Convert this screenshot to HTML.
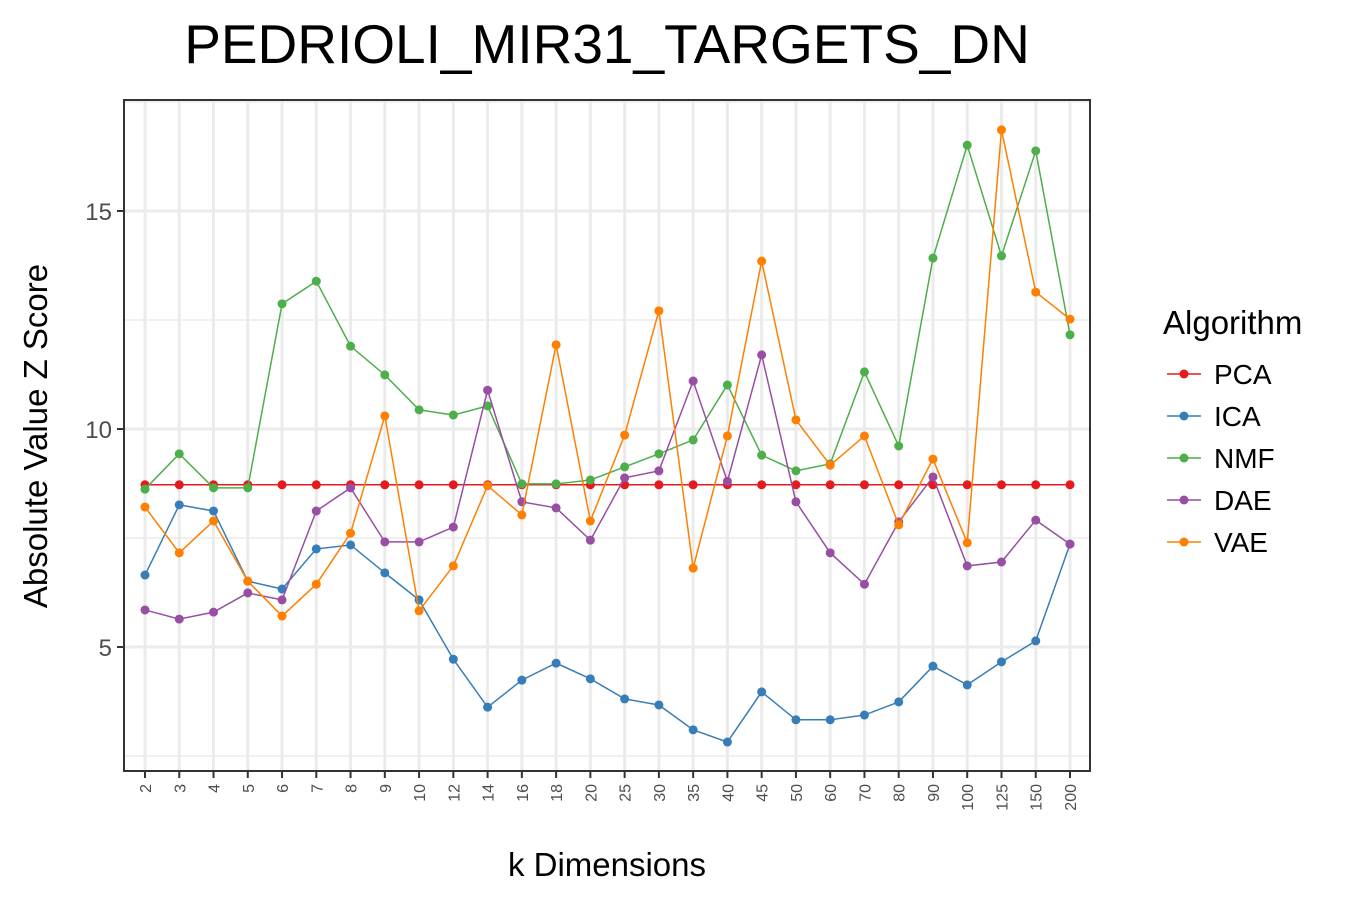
<!DOCTYPE html>
<html><head><meta charset="utf-8"><style>
body{margin:0;background:#fff;}
svg{font-family:"Liberation Sans",Arial,sans-serif;}
</style></head><body>
<svg id="chart" width="1350" height="900">
<text x="607" y="63" font-size="55" text-anchor="middle" fill="#000">PEDRIOLI_MIR31_TARGETS_DN</text>
<g id="grid"></g><g id="series"></g><g id="axes"></g>
<text x="607" y="876" font-size="33" text-anchor="middle">k Dimensions</text>
<text transform="translate(47,436) rotate(-90)" font-size="33" text-anchor="middle">Absolute Value Z Score</text>
<g id="legend"></g>
</svg>
<script>
const categories=["2","3","4","5","6","7","8","9","10","12","14","16","18","20","25","30","35","40","45","50","60","70","80","90","100","125","150","200"];
const pca=[8.72,8.72,8.72,8.72,8.72,8.72,8.72,8.72,8.72,8.72,8.72,8.72,8.72,8.72,8.72,8.72,8.72,8.72,8.72,8.72,8.72,8.72,8.72,8.72,8.72,8.72,8.72,8.72];
const ica=[6.65,8.26,8.12,6.51,6.33,7.25,7.34,6.70,6.08,4.72,3.62,4.24,4.63,4.27,3.81,3.67,3.10,2.82,3.97,3.33,3.33,3.44,3.74,4.56,4.13,4.66,5.14,7.36];
const nmf=[8.62,9.43,8.65,8.65,12.87,13.39,11.90,11.24,10.44,10.32,10.53,8.74,8.74,8.83,9.13,9.43,9.75,11.01,9.40,9.04,9.20,11.31,9.61,13.92,16.51,13.97,16.38,12.16];
const dae=[5.85,5.64,5.80,6.24,6.08,8.12,8.65,7.41,7.41,7.75,10.89,8.33,8.19,7.45,8.88,9.04,11.10,8.80,11.70,8.33,7.16,6.44,7.87,8.90,6.86,6.95,7.91,7.36];
const vae=[8.21,7.16,7.89,6.51,5.71,6.44,7.61,10.30,5.83,6.86,8.70,8.03,11.93,7.89,9.86,12.71,6.81,9.84,13.85,10.21,9.17,9.84,7.80,9.31,7.39,16.86,13.14,12.52];
const seriesNames=["PCA","ICA","NMF","DAE","VAE"];
const seriesColors=["#e41a1c","#377eb8","#4daf4a","#984ea3","#ff7f00"];
const seriesData=[pca,ica,nmf,dae,vae];
const yTicks=[5,10,15];
const yMinor=[2.5,7.5,12.5,17.5];
const NS="http://www.w3.org/2000/svg";
const L=124,R=1090,T=100,B=771;
const x=i=>145+i*(1070-145)/(categories.length-1);
const y=v=>429-(v-10)*43.6;
function mk(tag,attrs,parent){const e=document.createElementNS(NS,tag);for(const k in attrs)e.setAttribute(k,attrs[k]);parent.appendChild(e);return e;}
const grid=document.getElementById('grid'),axes=document.getElementById('axes'),ser=document.getElementById('series'),leg=document.getElementById('legend');
yMinor.forEach(v=>{if(y(v)>T&&y(v)<B){const l=mk('line',{x1:L,x2:R,y1:y(v),y2:y(v),stroke:'#ebebeb','stroke-width':1.5},grid);

}});
yTicks.forEach(v=>{const l=mk('line',{x1:L,x2:R,y1:y(v),y2:y(v),stroke:'#ebebeb','stroke-width':3},grid);


const t=mk('line',{x1:L-7,x2:L,y1:y(v),y2:y(v),stroke:'#333','stroke-width':2},axes);


const tx=mk('text',{x:L-12,y:y(v)+9,'font-size':24,'text-anchor':'end',fill:'#4d4d4d'},axes);tx.textContent=v;

});
categories.forEach((c,i)=>{const l=mk('line',{x1:x(i),x2:x(i),y1:T,y2:B,stroke:'#ebebeb','stroke-width':3},grid);


const t=mk('line',{x1:x(i),x2:x(i),y1:B,y2:B+7,stroke:'#333','stroke-width':2},axes);


const tx=mk('text',{transform:`translate(${x(i)+6},${B+13}) rotate(-90)`,'font-size':16,'text-anchor':'end',fill:'#4d4d4d'},axes);tx.textContent=c;

});
const frame=mk('rect',{x:L,y:T,width:R-L,height:B-T,fill:'none',stroke:'#333','stroke-width':2},axes);


seriesData.forEach((d,s)=>{const g=mk('g',{},ser);


const pl=mk('polyline',{points:d.map((v,i)=>x(i)+','+y(v)).join(' '),fill:'none',stroke:seriesColors[s],'stroke-width':1.5},g);


d.forEach((v,i)=>{const p=mk('circle',{cx:x(i),cy:y(v),r:4.5,fill:seriesColors[s]},g);

});});
const lt=mk('text',{x:1163,y:334,'font-size':33},leg);lt.textContent='Algorithm';


seriesNames.forEach((n,s)=>{const yy=374+s*42;const g=mk('g',{},leg);


mk('line',{x1:1167,x2:1201,y1:yy,y2:yy,stroke:seriesColors[s],'stroke-width':1.5},g);
mk('circle',{cx:1184,cy:yy,r:4.5,fill:seriesColors[s]},g);
const t=mk('text',{x:1214,y:yy+10,'font-size':28},g);t.textContent=n;});
</script>
</body></html>
